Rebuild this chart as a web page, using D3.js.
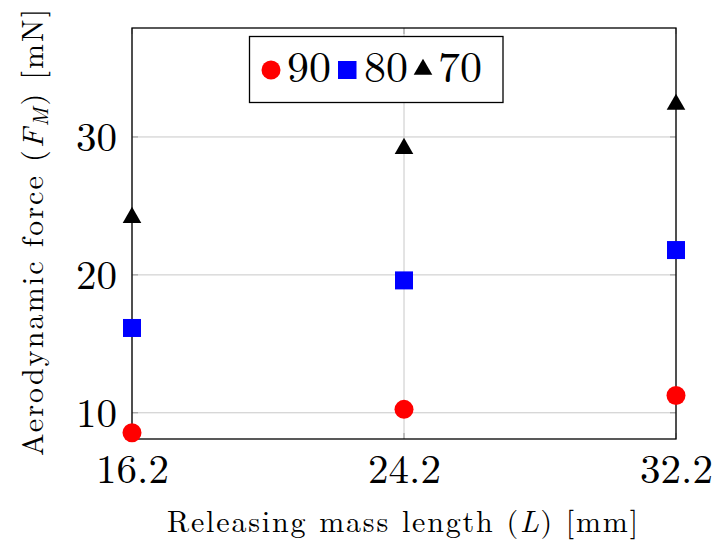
<!DOCTYPE html>
<html><head><meta charset="utf-8">
<script src="https://cdn.jsdelivr.net/npm/d3@7"></script>
<style>body{margin:0;background:#fff}svg{display:block}</style>
</head><body>
<svg id="c" width="715" height="545"></svg>
<script>
const categories = [16.2, 24.2, 32.2];
const xTicks = [16.2, 24.2, 32.2];
const yTicks = [10, 20, 30];
const series90 = [8.55, 10.25, 11.25];
const series80 = [16.15, 19.6, 21.8];
const series70 = [24.3, 29.3, 32.5];
const seriesNames = ["90", "80", "70"];

const svg = d3.select("#c");
const L = 132, R = 676, T = 28, B = 439;
const x = d3.scaleLinear().domain([16.2, 32.2]).range([L, R]);
const y = d3.scaleLinear().domain([8.1, 37.9]).range([B, T]);
const font = "'Latin Modern Roman', 'Liberation Serif', serif";

// grid
const g = svg.append("g");
g.selectAll(".gy").data(yTicks).join("line")
  .attr("x1", L).attr("x2", R).attr("y1", d => y(d)).attr("y2", d => y(d))
  .attr("stroke", "#c8c8c8").attr("stroke-width", 1);
g.selectAll(".gx").data(xTicks).join("line")
  .attr("y1", T).attr("y2", B).attr("x1", d => x(d)).attr("x2", d => x(d))
  .attr("stroke", "#c8c8c8").attr("stroke-width", 1);
// tick marks
yTicks.forEach(t => {
  g.append("line").attr("x1", L).attr("x2", L + 6).attr("y1", y(t)).attr("y2", y(t)).attr("stroke", "#999");
  g.append("line").attr("x1", R - 6).attr("x2", R).attr("y1", y(t)).attr("y2", y(t)).attr("stroke", "#999");
});
xTicks.forEach(t => {
  g.append("line").attr("x1", x(t)).attr("x2", x(t)).attr("y1", B).attr("y2", B - 6).attr("stroke", "#999");
  g.append("line").attr("x1", x(t)).attr("x2", x(t)).attr("y1", T).attr("y2", T + 6).attr("stroke", "#999");
});

// axes via d3
const xAxis = svg.append("g").attr("transform", `translate(0,${B})`)
  .call(d3.axisBottom(x).tickValues(xTicks).tickFormat(d3.format(".1f")).tickSize(0).tickPadding(0));
const yAxis = svg.append("g").attr("transform", `translate(${L},0)`)
  .call(d3.axisLeft(y).tickValues(yTicks).tickSize(0).tickPadding(15));
[xAxis, yAxis].forEach(a => {
  a.attr("font-family", null).attr("font-size", null);
  a.select(".domain").remove();
  a.selectAll("text").style("font-family", font).style("font-size", "41px").attr("fill", "#000");
});
xAxis.selectAll("text").attr("y", 44).attr("dy", null);
yAxis.selectAll("text").attr("dy", "0.33em");

// border
svg.append("rect").attr("x", L).attr("y", T).attr("width", R - L).attr("height", B - T)
  .attr("fill", "none").attr("stroke", "#000").attr("stroke-width", 1.3);

// markers
const m = svg.append("g");
m.selectAll(".s70").data(series70).join("path")
  .attr("d", d3.symbol(d3.symbolTriangle, 150))
  .attr("transform", (d, i) => `translate(${x(categories[i])},${y(d) + 2})`).attr("fill", "#000");
m.selectAll(".s80").data(series80).join("rect")
  .attr("x", (d, i) => x(categories[i]) - 9).attr("y", d => y(d) - 9)
  .attr("width", 18).attr("height", 18).attr("fill", "#0000ff");
m.selectAll(".s90").data(series90).join("circle")
  .attr("cx", (d, i) => x(categories[i])).attr("cy", d => y(d)).attr("r", 9.5).attr("fill", "#ff0000");

// legend
const lg = svg.append("g");
lg.append("rect").attr("x", 249.5).attr("y", 36.5).attr("width", 253.5).attr("height", 66)
  .attr("fill", "#fff").attr("stroke", "#000").attr("stroke-width", 1.3);
const ly = 70;
lg.append("circle").attr("cx", 271).attr("cy", ly).attr("r", 9.5).attr("fill", "#ff0000");
lg.append("rect").attr("x", 338).attr("y", 61).attr("width", 18.5).attr("height", 18).attr("fill", "#0000ff");
lg.append("path").attr("d", d3.symbol(d3.symbolTriangle, 150)).attr("transform", `translate(423,${69.5})`).attr("fill", "#000");
const lx = [287, 364, 438];
seriesNames.forEach((s, i) => {
  lg.append("text").attr("x", lx[i]).attr("y", 82).text(s)
    .style("font-family", font).style("font-size", "44px").attr("fill", "#000");
});

// axis titles
const xt = svg.append("text").attr("x", (167 + 638) / 2).attr("y", 532).attr("text-anchor", "middle")
  .style("font-family", font).style("font-size", "30px").attr("fill", "#000")
  .attr("textLength", 471).attr("lengthAdjust", "spacing");
xt.append("tspan").text("Releasing mass length (");
xt.append("tspan").attr("font-style", "italic").text("L");
xt.append("tspan").text(") [mm]");

const yt = svg.append("text").attr("transform", `translate(43,${(9 + 456) / 2}) rotate(-90)`).attr("text-anchor", "middle")
  .style("font-family", font).style("font-size", "30px").attr("fill", "#000")
  .attr("textLength", 447).attr("lengthAdjust", "spacing");
yt.append("tspan").text("Aerodynamic force (");
yt.append("tspan").attr("font-style", "italic").text("F");
yt.append("tspan").attr("font-style", "italic").style("font-size", "21px").attr("dy", 5).text("M");
yt.append("tspan").attr("dy", -5).text(") [mN]");
</script>
</body></html>
